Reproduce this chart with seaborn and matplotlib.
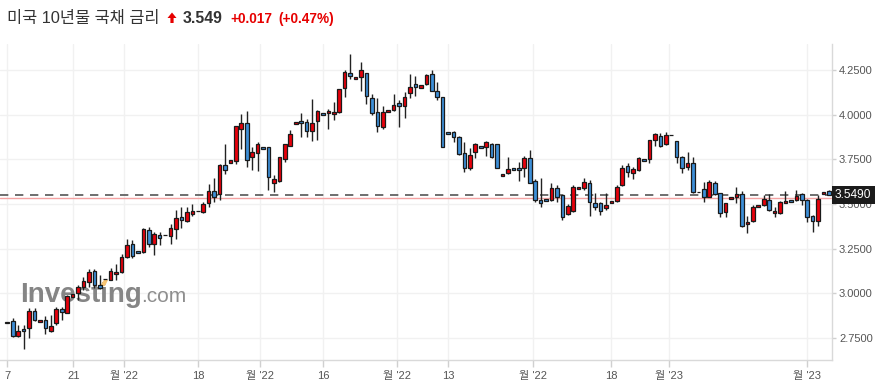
import numpy as np
import pandas as pd
import seaborn as sns
import matplotlib
matplotlib.use("Agg")
import matplotlib.pyplot as plt
from matplotlib.patches import Polygon
from matplotlib.ticker import FormatStrFormatter
import matplotlib.transforms as mtransforms

# ---------------- data ----------------
opens = [2.840, 2.844, 2.761, 2.797, 2.803, 2.900, 2.837, 2.849, 2.790, 2.831,
         2.911, 2.887, 2.980, 2.999, 3.033, 3.064, 3.124, 3.046, 3.077, 3.074,
         3.105, 3.117, 3.204, 3.274, 3.236, 3.232, 3.354, 3.275, 3.326, 3.326,
         3.322, 3.358, 3.428, 3.406, 3.445, 3.460, 3.456, 3.503, 3.572, 3.554,
         3.718, 3.727, 3.742, 3.918, 3.951, 3.761, 3.787, 3.817, 3.817, 3.619,
         3.630, 3.751, 3.826, 3.946, 3.964, 3.959, 3.910, 3.966, 4.007, 4.007,
         4.002, 4.016, 4.147, 4.232, 4.198, 4.212, 4.232, 4.095, 4.013, 3.932,
         4.013, 4.024, 4.063, 4.050, 4.123, 4.170, 4.151, 4.170, 4.226, 4.132,
         4.097, 3.901, 3.901, 3.873, 3.783, 3.699, 3.792, 3.823, 3.820, 3.834,
         3.834, 3.654, 3.671, 3.699, 3.699, 3.699, 3.755, 3.628, 3.522, 3.529,
         3.522, 3.591, 3.548, 3.442, 3.462, 3.582, 3.591, 3.615, 3.503, 3.503,
         3.475, 3.505, 3.518, 3.606, 3.712, 3.671, 3.690, 3.750, 3.751, 3.858,
         3.882, 3.834, 3.886, 3.852, 3.761, 3.705, 3.731, 3.565, 3.582, 3.540,
         3.619, 3.559, 3.456, 3.526, 3.537, 3.555, 3.386, 3.406, 3.481, 3.494,
         3.522, 3.447, 3.451, 3.505, 3.522, 3.522, 3.554, 3.522, 3.432, 3.406,
         3.557, 3.572]
highs = [2.840, 2.859, 2.821, 2.821, 2.915, 2.915, 2.849, 2.874, 2.877, 2.924,
         2.924, 2.990, 2.993, 3.046, 3.089, 3.135, 3.135, 3.102, 3.077, 3.142,
         3.163, 3.218, 3.302, 3.298, 3.236, 3.367, 3.372, 3.344, 3.344, 3.326,
         3.386, 3.466, 3.481, 3.481, 3.498, 3.460, 3.512, 3.611, 3.643, 3.723,
         3.834, 3.746, 3.936, 4.002, 4.022, 3.817, 3.845, 3.817, 3.820, 3.662,
         3.761, 3.834, 3.914, 3.959, 4.011, 3.974, 4.086, 4.026, 4.007, 4.030,
         4.069, 4.144, 4.250, 4.338, 4.209, 4.293, 4.232, 4.114, 4.095, 4.048,
         4.024, 4.114, 4.082, 4.128, 4.226, 4.218, 4.164, 4.226, 4.250, 4.181,
         4.097, 3.901, 3.910, 3.882, 3.848, 3.811, 3.839, 3.823, 3.854, 3.843,
         3.834, 3.666, 3.761, 3.699, 3.736, 3.768, 3.802, 3.638, 3.643, 3.529,
         3.615, 3.606, 3.550, 3.499, 3.606, 3.593, 3.643, 3.634, 3.559, 3.512,
         3.563, 3.516, 3.606, 3.718, 3.727, 3.705, 3.761, 3.750, 3.858, 3.899,
         3.895, 3.901, 3.886, 3.852, 3.768, 3.789, 3.761, 3.565, 3.621, 3.634,
         3.630, 3.563, 3.507, 3.537, 3.593, 3.572, 3.432, 3.494, 3.492, 3.550,
         3.555, 3.481, 3.518, 3.574, 3.522, 3.578, 3.559, 3.526, 3.438, 3.550,
         3.568, 3.575]
lows = [2.831, 2.753, 2.756, 2.685, 2.747, 2.844, 2.837, 2.769, 2.784, 2.821,
        2.849, 2.887, 2.980, 2.961, 3.018, 3.036, 3.030, 3.021, 3.077, 3.074,
        3.074, 3.111, 3.195, 3.195, 3.223, 3.223, 3.260, 3.214, 3.270, 3.326,
        3.274, 3.302, 3.363, 3.400, 3.434, 3.460, 3.451, 3.481, 3.511, 3.522,
        3.666, 3.727, 3.722, 3.806, 3.705, 3.690, 3.686, 3.806, 3.578, 3.568,
        3.624, 3.736, 3.824, 3.946, 3.876, 3.873, 3.854, 3.858, 3.996, 3.918,
        3.970, 4.011, 4.100, 4.200, 4.198, 4.132, 4.058, 3.998, 3.904, 3.918,
        4.013, 4.020, 3.929, 3.979, 4.095, 4.106, 4.151, 4.166, 4.132, 4.082,
        3.817, 3.890, 3.848, 3.774, 3.677, 3.690, 3.755, 3.811, 3.768, 3.755,
        3.699, 3.654, 3.666, 3.688, 3.628, 3.652, 3.615, 3.512, 3.481, 3.518,
        3.518, 3.512, 3.410, 3.438, 3.456, 3.582, 3.578, 3.432, 3.466, 3.438,
        3.466, 3.505, 3.512, 3.600, 3.652, 3.638, 3.686, 3.739, 3.731, 3.824,
        3.820, 3.830, 3.886, 3.731, 3.671, 3.690, 3.563, 3.565, 3.512, 3.537,
        3.550, 3.428, 3.428, 3.526, 3.507, 3.372, 3.335, 3.400, 3.481, 3.488,
        3.462, 3.428, 3.443, 3.503, 3.511, 3.518, 3.494, 3.400, 3.344, 3.376,
        3.557, 3.549]
closes = [2.831, 2.761, 2.788, 2.786, 2.900, 2.849, 2.849, 2.803, 2.816, 2.911,
          2.896, 2.984, 2.993, 3.033, 3.070, 3.120, 3.046, 3.030, 3.077, 3.124,
          3.120, 3.204, 3.270, 3.208, 3.223, 3.358, 3.274, 3.331, 3.311, 3.326,
          3.363, 3.419, 3.410, 3.453, 3.460, 3.460, 3.499, 3.574, 3.540, 3.716,
          3.690, 3.746, 3.936, 3.951, 3.746, 3.789, 3.834, 3.806, 3.649, 3.638,
          3.761, 3.834, 3.891, 3.959, 3.951, 3.908, 3.951, 4.022, 3.996, 4.020,
          4.015, 4.144, 4.237, 4.218, 4.209, 4.248, 4.106, 4.011, 3.936, 4.013,
          4.024, 4.052, 4.050, 4.097, 4.153, 4.156, 4.164, 4.220, 4.134, 4.100,
          3.817, 3.890, 3.873, 3.779, 3.699, 3.774, 3.834, 3.811, 3.845, 3.764,
          3.699, 3.666, 3.694, 3.688, 3.688, 3.755, 3.619, 3.522, 3.503, 3.518,
          3.587, 3.540, 3.428, 3.490, 3.593, 3.593, 3.621, 3.509, 3.484, 3.460,
          3.494, 3.516, 3.593, 3.699, 3.680, 3.694, 3.755, 3.739, 3.858, 3.890,
          3.826, 3.886, 3.886, 3.761, 3.699, 3.727, 3.568, 3.565, 3.537, 3.621,
          3.555, 3.451, 3.503, 3.537, 3.554, 3.378, 3.400, 3.484, 3.492, 3.526,
          3.466, 3.462, 3.512, 3.518, 3.511, 3.544, 3.522, 3.425, 3.406, 3.526,
          3.568, 3.549]

tick_positions = [0, 12.13, 21.50, 35.10, 46.44, 58.07, 71.56, 81.04, 96.55, 110.94, 121.60, 146.96]
tick_labels = ["7", "21", "월 '22", "18", "월 '22", "16", "월 '22", "13", "월 '22", "18", "월 '23", "월 '23"]
y_ticks = [2.75, 3.00, 3.25, 3.50, 3.75, 4.00, 4.25]

title_name = "미국 10년물 국채 금리"
last_price = 3.549
prev_close = 3.532
change_txt = "+0.017"
change_pct_txt = "(+0.47%)"

# ---------------- styling ----------------
sns.set_theme(style="white")
plt.rcParams['font.family'] = ['Liberation Sans', 'Noto Sans CJK KR', 'DejaVu Sans']

UP = '#e8000b'
DOWN = '#3d8fd8'
EDGE = '#1a1a1a'

df = pd.DataFrame({'open': opens, 'high': highs, 'low': lows, 'close': closes})
df['idx'] = np.arange(len(df))
diff = df['close'] - df['open']
df['color'] = np.where(diff >= 0, UP, DOWN)
min_h = 0.010
body_h = np.where(diff == 0, 0.0, np.sign(diff) * np.maximum(np.abs(diff), min_h))
body_bottom = df['open'].values

W, H = 883, 391
fig = plt.figure(figsize=(W / 100, H / 100), dpi=100)
fig.patch.set_facecolor('white')
ax = fig.add_axes([0, 1 - 360 / H, 832 / W, (360 - 44) / H])
ax.set_facecolor('white')

# grid
ax.set_xlim(-1.34, 151.55)
ax.set_ylim(2.6254, 4.3957)
ax.set_yticks(y_ticks)
ax.set_xticks(tick_positions)
ax.set_xticklabels(tick_labels)
ax.grid(True, color='#f1f1f1', linewidth=1, zorder=0)
ax.set_axisbelow(True)

# reference lines
ax.axhline(prev_close, color='#f4a3a3', linewidth=1, zorder=2)
ax.axhline(last_price, color='#555555', linewidth=1.2, linestyle=(0, (5, 4)), zorder=2)

# watermark (behind candles)
ax.text(20 / W, 1 - 302 / H, "Investing", transform=fig.transFigure, fontsize=20,
        fontweight='bold', color='#858585', va='baseline', ha='left', zorder=1.5)
ax.text(141 / W, 1 - 302 / H, ".com", transform=fig.transFigure, fontsize=15,
        color='#8e8e8e', va='baseline', ha='left', zorder=1.5)
acc = Polygon([(100 / W, 1 - 286 / H), (104 / W, 1 - 280 / H), (108 / W, 1 - 280 / H), (105 / W, 1 - 286 / H)],
              closed=True, transform=fig.transFigure, facecolor='#f8c573', edgecolor='none', zorder=1.6)
ax.add_artist(acc)

# candles
ax.vlines(df['idx'], df['low'], df['high'], color='#222222', linewidth=1, zorder=3)
ax.bar(df['idx'], body_h, bottom=body_bottom, width=0.66, color=df['color'],
       edgecolor=EDGE, linewidth=0.9, zorder=4)

# axes styling
ax.yaxis.tick_right()
ax.yaxis.set_major_formatter(FormatStrFormatter('%.4f'))
for s in ['left', 'top']:
    ax.spines[s].set_visible(False)
for s in ['right', 'bottom']:
    ax.spines[s].set_visible(True)
    ax.spines[s].set_color('#d9d9d9')
    ax.spines[s].set_linewidth(1)
ax.tick_params(axis='y', which='both', right=True, left=False, length=3, width=1,
               color='#d0d0d0', labelcolor='#555555', labelsize=8, pad=2)
ax.tick_params(axis='x', which='both', bottom=True, length=5, width=1,
               color='#d0d0d0', labelcolor='#555555', labelsize=8, pad=3)

# current price box
trans = mtransforms.blended_transform_factory(ax.transAxes, ax.transData)
ax.text(835 / 832, last_price, "3.5490", transform=trans, ha='left', va='center',
        color='white', fontsize=8.6, zorder=10, clip_on=False,
        bbox=dict(boxstyle='square,pad=0.28', facecolor='#1b1b1b', edgecolor='none'))

# header
base_y = 1 - 23 / H
fig.text(7 / W, base_y, title_name, fontsize=11.8, color='#333333', va='baseline', ha='left')
arrow = Polygon([(167.5 / W, 1 - 18 / H), (172 / W, 1 - 12.5 / H), (176.5 / W, 1 - 18 / H),
                 (173.6 / W, 1 - 18 / H), (173.6 / W, 1 - 23 / H), (170.4 / W, 1 - 23 / H),
                 (170.4 / W, 1 - 18 / H)], closed=True, transform=fig.transFigure,
                facecolor='#e60000', edgecolor='none')
fig.patches.append(arrow)
fig.text(183 / W, base_y, f"{last_price:.3f}", fontsize=11.4, fontweight='bold', color='#333333',
         va='baseline', ha='left')
fig.text(230 / W, base_y, change_txt, fontsize=9.8, fontweight='bold', color='#e60000',
         va='baseline', ha='left')
fig.text(278 / W, base_y, change_pct_txt, fontsize=9.8, fontweight='bold', color='#e60000',
         va='baseline', ha='left')

fig.savefig('out.png', dpi=100, facecolor='white')
